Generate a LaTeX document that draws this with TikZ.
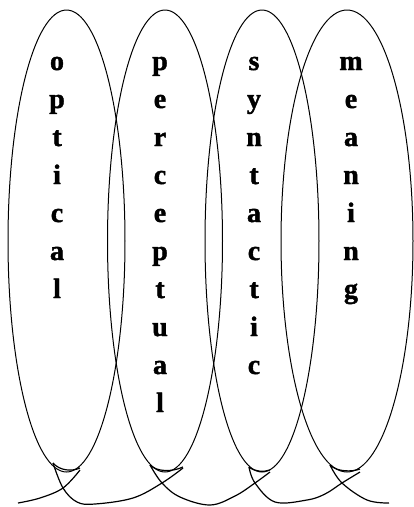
\documentclass[tikz,border=0pt]{standalone}
\usepackage{fontspec}
\setmainfont{Liberation Serif}
\newfontfamily\letterfont{Liberation Serif Bold}[UprightFeatures={FakeBold=1.5}]
\usepackage{tikz}

\begin{document}
\begin{tikzpicture}[x=1pt,y=-1pt,line width=1pt]
\tikzset{letter/.style={anchor=base,font=\letterfont\fontsize{28}{28}\selectfont,inner sep=0pt}}
\useasboundingbox (0,0) rectangle (414,507);
% the four ellipses
\draw (66.5,241) ellipse [x radius=58.5, y radius=231];
\draw (165,241) ellipse [x radius=57.5, y radius=231];
\draw (262,241) ellipse [x radius=57, y radius=231];
\draw (347,241) ellipse [x radius=66, y radius=231];
% letters
\foreach \l [count=\i] in {o,p,t,i,c,a,l}
  \node[letter] (opt\i) at (57,32+38*\i) {\l};
\foreach \l [count=\i] in {p,e,r,c,e,p,t,u,a,l}
  \node[letter] (per\i) at (160,32+38*\i) {\l};
\foreach \l [count=\i] in {s,y,n,t,a,c,t,i,c}
  \node[letter] (syn\i) at (254,32+38*\i) {\l};
\foreach \l [count=\i] in {m,e,a,n,i,n,g}
  \node[letter] (mea\i) at (351,32+38*\i) {\l};
% tails under the ellipses
\begin{scope}[line width=1.2pt]
\draw plot[smooth,tension=0.6] coordinates {(18,503) (40,498) (63,488) (80,470)};
\draw plot[smooth,tension=0.6] coordinates {(53,463) (63,488) (77,502) (95,504) (133,498) (162,483) (183,468)};
\draw plot[smooth,tension=0.6] coordinates {(150,465) (162,483) (180,497) (210,505) (235,496) (255,483) (270,472)};
\draw plot[smooth,tension=0.6] coordinates {(249,467) (255,483) (275,502) (307,500) (325,494) (342,483) (360,472)};
\draw plot[smooth,tension=0.6] coordinates {(330,465) (342,483) (367,500) (389,503)};
% doubled bottoms
\draw (53,463) .. controls (60,471) and (72,471.5) .. (80,468);
\draw (150,465) .. controls (157,472) and (172,472) .. (183,467);
\draw (249,467) .. controls (255,472) and (264,472) .. (270,470);
\draw (330,465) .. controls (337,472) and (352,472) .. (360,469);
\end{scope}
\end{tikzpicture}
\end{document}
